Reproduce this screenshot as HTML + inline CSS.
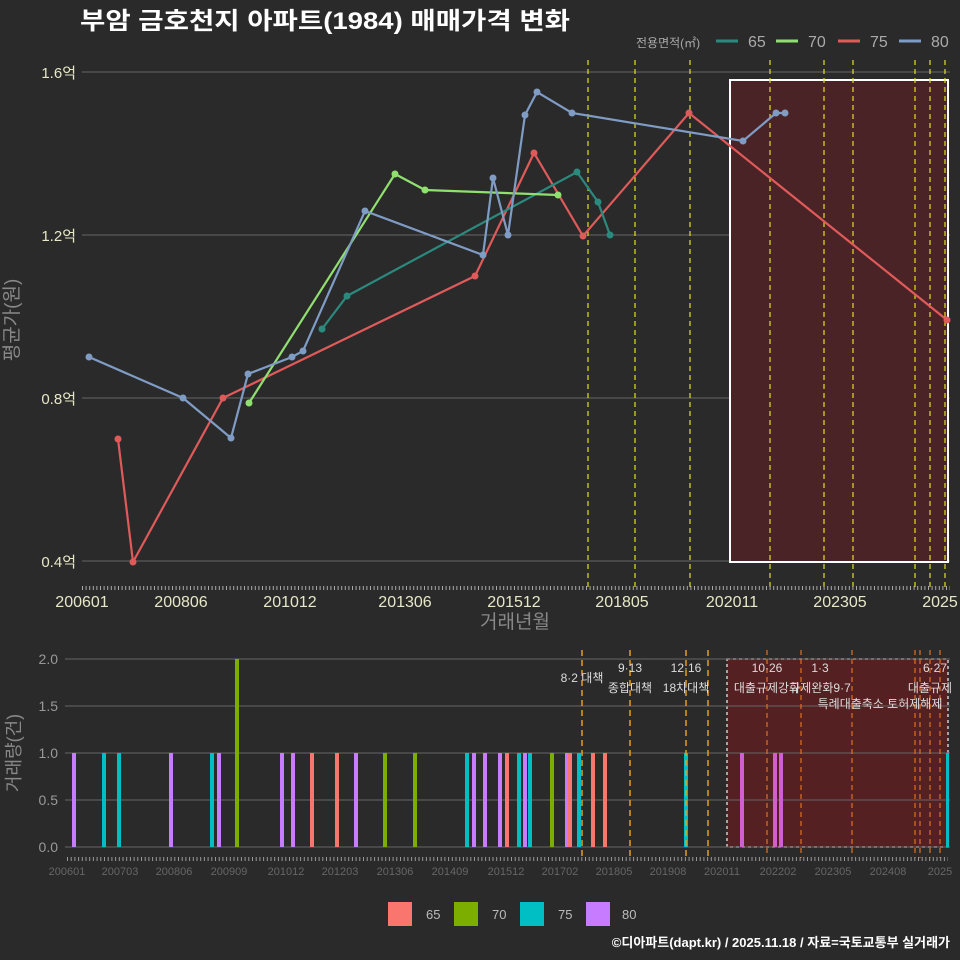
<!DOCTYPE html>
<html><head><meta charset="utf-8"><style>
body{margin:0;background:#2a2a2b;}
svg{display:block;font-family:"Liberation Sans","Noto Sans CJK KR",sans-serif;}
</style></head><body>
<svg width="960" height="960" viewBox="0 0 960 960" xmlns="http://www.w3.org/2000/svg">
<rect width="960" height="960" fill="#2a2a2b"/>
<text x="80" y="29" font-size="24" font-weight="bold" fill="#fff" textLength="490" lengthAdjust="spacingAndGlyphs">부암 금호천지 아파트(1984) 매매가격 변화</text>
<g font-size="16" fill="#aaa">
<text x="636" y="47" font-size="12">전용면적(㎡)</text>
<line x1="716" y1="41" x2="738" y2="41" stroke="#2a8a7e" stroke-width="3"/><text x="748" y="47">65</text>
<line x1="776" y1="41" x2="798" y2="41" stroke="#90e070" stroke-width="3"/><text x="808" y="47">70</text>
<line x1="838" y1="41" x2="860" y2="41" stroke="#e05a5a" stroke-width="3"/><text x="870" y="47">75</text>
<line x1="899" y1="41" x2="921" y2="41" stroke="#7f9cc4" stroke-width="3"/><text x="931" y="47">80</text>
</g>
<g stroke="#666" stroke-width="1">
<line x1="82" y1="72" x2="950" y2="72"/><line x1="82" y1="235" x2="950" y2="235"/>
<line x1="82" y1="398" x2="950" y2="398"/><line x1="82" y1="561" x2="950" y2="561"/>
</g>
<g font-size="15" fill="#e8e8c8" text-anchor="end">
<text x="76" y="78">1.6억</text><text x="76" y="241">1.2억</text><text x="76" y="404">0.8억</text><text x="76" y="567">0.4억</text>
</g>
<rect x="730" y="80" width="218" height="482" fill="#4a2326" stroke="#fff" stroke-width="2"/>
<g stroke="#e0e020" stroke-width="1.2" stroke-dasharray="5,4">
<line x1="588" y1="60" x2="588" y2="590"/><line x1="635" y1="60" x2="635" y2="590"/><line x1="690" y1="60" x2="690" y2="590"/>
<line x1="770" y1="60" x2="770" y2="590"/><line x1="824" y1="60" x2="824" y2="590"/><line x1="853" y1="60" x2="853" y2="590"/>
<line x1="915" y1="60" x2="915" y2="590"/><line x1="930" y1="60" x2="930" y2="590"/><line x1="945" y1="60" x2="945" y2="590"/>
</g>
<g fill="none" stroke-width="2.2">
<polyline stroke="#e05a5a" points="118,439 133,562 223,398 475,276 534,153 583,236 689,113 947,320"/>
<polyline stroke="#2a8a7e" points="322,329 347,296 577,172 598,202 610,235"/>
<polyline stroke="#90e070" points="249,403 395,174 425,190 558,195"/>
<polyline stroke="#7f9cc4" points="89,357 183,398 231,438 248,374 292,357 303,351 365,211 483,255 493,178 508,235 525,115 537,92 572,113 743,141 776,113 785,113"/>
</g>
<g fill="#e05a5a"><circle cx="118" cy="439" r="3.5"/><circle cx="133" cy="562" r="3.5"/><circle cx="223" cy="398" r="3.5"/><circle cx="475" cy="276" r="3.5"/><circle cx="534" cy="153" r="3.5"/><circle cx="583" cy="236" r="3.5"/><circle cx="689" cy="113" r="3.5"/><circle cx="947" cy="320" r="3.5"/></g>
<g fill="#2a8a7e"><circle cx="322" cy="329" r="3.5"/><circle cx="347" cy="296" r="3.5"/><circle cx="577" cy="172" r="3.5"/><circle cx="598" cy="202" r="3.5"/><circle cx="610" cy="235" r="3.5"/></g>
<g fill="#90e070"><circle cx="249" cy="403" r="3.5"/><circle cx="395" cy="174" r="3.5"/><circle cx="425" cy="190" r="3.5"/><circle cx="558" cy="195" r="3.5"/></g>
<g fill="#7f9cc4"><circle cx="89" cy="357" r="3.5"/><circle cx="183" cy="398" r="3.5"/><circle cx="231" cy="438" r="3.5"/><circle cx="248" cy="374" r="3.5"/><circle cx="292" cy="357" r="3.5"/><circle cx="303" cy="351" r="3.5"/><circle cx="365" cy="211" r="3.5"/><circle cx="483" cy="255" r="3.5"/><circle cx="493" cy="178" r="3.5"/><circle cx="508" cy="235" r="3.5"/><circle cx="525" cy="115" r="3.5"/><circle cx="537" cy="92" r="3.5"/><circle cx="572" cy="113" r="3.5"/><circle cx="743" cy="141" r="3.5"/><circle cx="776" cy="113" r="3.5"/><circle cx="785" cy="113" r="3.5"/></g>
<line x1="82" y1="588" x2="950" y2="588" stroke="#aaa" stroke-width="4" stroke-dasharray="1,2.6"/>
<g font-size="16" fill="#e8e8c8" text-anchor="middle">
<text x="82" y="607">200601</text><text x="181" y="607">200806</text><text x="290" y="607">201012</text><text x="405" y="607">201306</text><text x="514" y="607">201512</text><text x="622" y="607">201805</text><text x="732" y="607">202011</text><text x="840" y="607">202305</text><text x="940" y="607">2025</text>
</g>
<text x="515" y="628" font-size="19" fill="#888" text-anchor="middle">거래년월</text>
<text transform="translate(18,320) rotate(-90)" font-size="19" fill="#888" text-anchor="middle">평균가(원)</text>
<rect x="727" y="659" width="221" height="188" fill="#552022" stroke="#ccc" stroke-width="1.5" stroke-dasharray="3,3"/>
<g stroke="#666" stroke-width="1">
<line x1="65" y1="659" x2="950" y2="659"/><line x1="65" y1="706" x2="950" y2="706"/><line x1="65" y1="753" x2="950" y2="753"/><line x1="65" y1="800" x2="950" y2="800"/><line x1="65" y1="847" x2="950" y2="847"/>
</g>
<g font-size="14" fill="#999" text-anchor="end">
<text x="58" y="664">2.0</text><text x="58" y="711">1.5</text><text x="58" y="758">1.0</text><text x="58" y="805">0.5</text><text x="58" y="852">0.0</text>
</g>
<text transform="translate(20,753) rotate(-90)" font-size="18" fill="#888" text-anchor="middle">거래량(건)</text>
<g>
<rect x="72" y="753" width="4" height="94" fill="#c77cff"/><rect x="102" y="753" width="4" height="94" fill="#00bfc4"/><rect x="117" y="753" width="4" height="94" fill="#00bfc4"/>
<rect x="169" y="753" width="4" height="94" fill="#c77cff"/><rect x="210" y="753" width="4" height="94" fill="#00bfc4"/><rect x="217" y="753" width="4" height="94" fill="#c77cff"/>
<rect x="235" y="659" width="4" height="188" fill="#7cae00"/><rect x="280" y="753" width="4" height="94" fill="#c77cff"/><rect x="291" y="753" width="4" height="94" fill="#c77cff"/>
<rect x="310" y="753" width="4" height="94" fill="#f8766d"/><rect x="335" y="753" width="4" height="94" fill="#f8766d"/><rect x="354" y="753" width="4" height="94" fill="#c77cff"/>
<rect x="383" y="753" width="4" height="94" fill="#7cae00"/><rect x="413" y="753" width="4" height="94" fill="#7cae00"/><rect x="465" y="753" width="4" height="94" fill="#00bfc4"/>
<rect x="472" y="753" width="4" height="94" fill="#c77cff"/><rect x="483" y="753" width="4" height="94" fill="#c77cff"/><rect x="498" y="753" width="4" height="94" fill="#c77cff"/>
<rect x="505" y="753" width="4" height="94" fill="#f8766d"/><rect x="517" y="753" width="4" height="94" fill="#00bfc4"/><rect x="523" y="753" width="4" height="94" fill="#c77cff"/>
<rect x="528" y="753" width="4" height="94" fill="#00bfc4"/><rect x="550" y="753" width="4" height="94" fill="#7cae00"/><rect x="565" y="753" width="4" height="94" fill="#c77cff"/>
<rect x="568" y="753" width="4" height="94" fill="#f8766d"/><rect x="577" y="753" width="4" height="94" fill="#00bfc4"/><rect x="591" y="753" width="4" height="94" fill="#f8766d"/>
<rect x="603" y="753" width="4" height="94" fill="#f8766d"/><rect x="684" y="753" width="4" height="94" fill="#00bfc4"/><rect x="740" y="753" width="4" height="94" fill="#d060d0"/>
<rect x="773" y="753" width="4" height="94" fill="#d060d0"/><rect x="779" y="753" width="4" height="94" fill="#d060d0"/><rect x="946" y="753" width="3" height="94" fill="#00bfc4"/>
</g>
<g stroke="#e0a020" stroke-width="1.5" stroke-dasharray="6,4">
<line x1="582" y1="650" x2="582" y2="858"/><line x1="630" y1="650" x2="630" y2="858"/><line x1="686" y1="650" x2="686" y2="858"/><line x1="708" y1="650" x2="708" y2="858"/>
</g>
<g stroke="#e07020" stroke-width="1.2" stroke-dasharray="5,4">
<line x1="767" y1="650" x2="767" y2="858"/><line x1="801" y1="650" x2="801" y2="858"/><line x1="852" y1="650" x2="852" y2="858"/><line x1="915" y1="650" x2="915" y2="858"/><line x1="920" y1="650" x2="920" y2="858"/><line x1="930" y1="650" x2="930" y2="858"/><line x1="940" y1="650" x2="940" y2="858"/>
</g>
<g font-size="12" fill="#ddd" text-anchor="middle">
<text x="582" y="682">8·2 대책</text><text x="630" y="672">9·13</text><text x="630" y="692">종합대책</text>
<text x="686" y="672">12·16</text><text x="686" y="692">18차대책</text>
<text x="767" y="672">10·26</text><text x="767" y="692">대출규제강화</text><text x="820" y="672">1·3</text><text x="820" y="692">규제완화9·7</text>
<text x="880" y="708">특례대출축소 토허제해제</text><text x="935" y="672">6·27</text><text x="930" y="692">대출규제</text>
</g>
<line x1="67" y1="859" x2="948" y2="859" stroke="#999" stroke-width="4" stroke-dasharray="1,2.7"/>
<g font-size="11" fill="#666" text-anchor="middle">
<text x="67" y="875">200601</text><text x="120" y="875">200703</text><text x="174" y="875">200806</text><text x="229" y="875">200909</text><text x="286" y="875">201012</text><text x="340" y="875">201203</text><text x="395" y="875">201306</text><text x="450" y="875">201409</text><text x="506" y="875">201512</text><text x="560" y="875">201702</text><text x="614" y="875">201805</text><text x="668" y="875">201908</text><text x="722" y="875">202011</text><text x="778" y="875">202202</text><text x="833" y="875">202305</text><text x="888" y="875">202408</text><text x="940" y="875">2025</text>
</g>
<g font-size="13" fill="#bbb">
<rect x="388" y="902" width="24" height="24" fill="#f8766d"/><text x="426" y="919">65</text>
<rect x="454" y="902" width="24" height="24" fill="#7cae00"/><text x="492" y="919">70</text>
<rect x="520" y="902" width="24" height="24" fill="#00bfc4"/><text x="558" y="919">75</text>
<rect x="586" y="902" width="24" height="24" fill="#c77cff"/><text x="622" y="919">80</text>
</g>
<text x="950" y="947" font-size="13" font-weight="bold" fill="#fff" text-anchor="end">©디아파트(dapt.kr) / 2025.11.18 / 자료=국토교통부 실거래가</text>
</svg>
</body></html>
